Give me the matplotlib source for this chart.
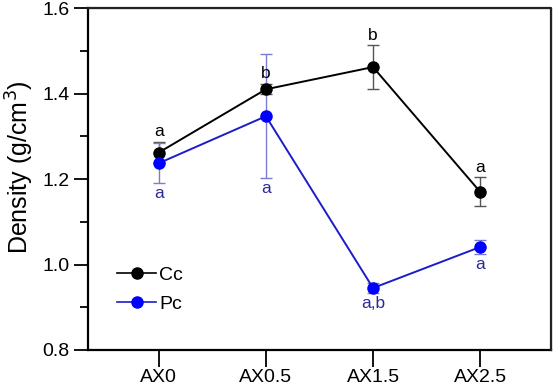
import matplotlib
matplotlib.use("Agg")
import matplotlib.pyplot as plt
from matplotlib.lines import Line2D
from matplotlib.ticker import MultipleLocator

plt.rcParams['font.family'] = ['Liberation Sans', 'DejaVu Sans']

# data
groups = ["AX0", "AX0.5", "AX1.5", "AX2.5"]
cc_mean = [1.262, 1.410, 1.462, 1.170]
cc_err = [0.025, 0.012, 0.051, 0.034]
pc_mean = [1.237, 1.347, 0.945, 1.041]
pc_err = [0.047, 0.145, 0.012, 0.017]
cc_letters = ["a", "b", "b", "a"]
pc_letters = ["a", "a", "a,b", "a"]

x = list(range(len(groups)))

fig = plt.figure(figsize=(5.55, 3.86), dpi=100)
ax = fig.add_axes([0.1586, 0.0933, 0.834, 0.8857])

ax.errorbar(x, cc_mean, yerr=cc_err, color="black", marker="o", markersize=8,
            lw=1.4, ecolor="#555555", elinewidth=1.0, capsize=4, capthick=1.0,
            zorder=3)
ax.errorbar(x, pc_mean, yerr=pc_err, color="#1c1cc8", marker="o", markersize=8,
            markerfacecolor="#0000ff", markeredgecolor="#0000ff",
            lw=1.4, ecolor="#7b7bd0", elinewidth=1.0, capsize=4, capthick=1.0,
            zorder=3)

# significance letters
for i in x:
    ax.annotate(cc_letters[i], (x[i], cc_mean[i] + cc_err[i]), xytext=(0, 2),
                textcoords="offset points", ha="center", va="bottom",
                fontsize=12.5, color="black")
    ax.annotate(pc_letters[i], (x[i], pc_mean[i] - pc_err[i]), xytext=(0, -2),
                textcoords="offset points", ha="center", va="top",
                fontsize=12.5, color="#2a2a9a")

ax.set_xlim(-0.66, 3.66)
ax.set_ylim(0.8, 1.6)
ax.set_xticks(x)
ax.set_xticklabels(groups)
ax.yaxis.set_major_locator(MultipleLocator(0.2))
ax.yaxis.set_minor_locator(MultipleLocator(0.1))
ax.yaxis.set_major_formatter(plt.FormatStrFormatter("%.1f"))
ax.tick_params(axis="y", which="major", direction="out", length=10, width=1.3,
               labelsize=14)
ax.tick_params(axis="y", which="minor", direction="out", length=6, width=1.3)
ax.tick_params(axis="x", direction="out", length=12, width=1.3, labelsize=14,
               pad=2)

ax.spines["left"].set_linewidth(1.6)
ax.spines["bottom"].set_linewidth(1.6)
# thin box on top and right
ax.plot([0, 1, 1], [1, 1, 0], transform=ax.transAxes, color="#222222",
        lw=1.6, clip_on=False, zorder=5)

ax.set_ylabel("Density (g/cm$^3$)", fontsize=18)
ax.yaxis.set_label_coords(-0.112, 0.535)

handles = [
    Line2D([], [], color="black", marker="o", markersize=8, lw=1.2),
    Line2D([], [], color="#1c1cc8", marker="o", markersize=8, lw=1.2,
           markerfacecolor="#0000ff", markeredgecolor="#0000ff"),
]
ax.legend(handles, ["Cc", "Pc"], loc="upper left",
          bbox_to_anchor=(0.025, 0.295), frameon=False,
          fontsize=14, handlelength=2.0, handletextpad=0.15, labelspacing=0.55)

fig.savefig("out.png", dpi=100)
